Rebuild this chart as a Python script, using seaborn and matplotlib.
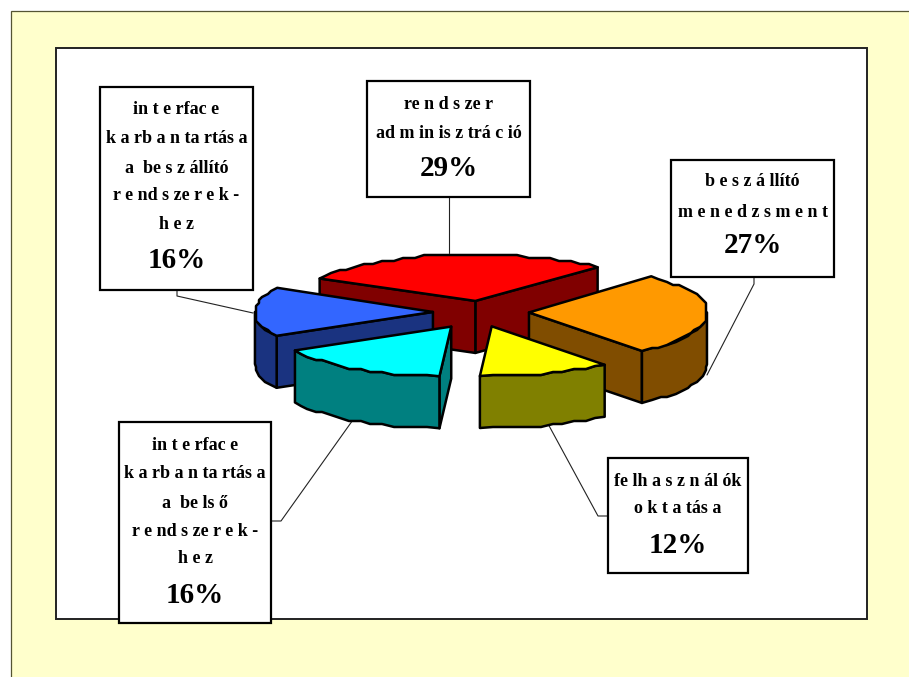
import numpy as np
import matplotlib
matplotlib.use("Agg")
import matplotlib.pyplot as plt
from matplotlib.patches import Polygon, Rectangle
import seaborn as sns

# Budget shares per activity
shares = [29, 27, 12, 16, 16]
top_colors = ["#FF0000", "#FF9900", "#FFFF00", "#00FFFF", "#3366FF"]
explode = [0.245, 0.264, 0.27, 0.30, 0.27]
# Extra shift of each slice in pixels, and depth scale of the rim on the far side
slice_shift = [(1, 1), (1, 0), (-4, 1.5), (-1, 2), (0, 0)]
rim_depth = [0.93, 1.0, 1.0, 1.0, 1.0]
draw_order = [0, 1, 4, 2, 3]

label_lines = [
    ["re n d s ze r", "ad m in is z trá c ió"],
    ["b e s z á llító", "m e n e d z s m e n t"],
    ["fe lh a s z n ál ók", "o k t a tás a"],
    ["in t e rfac e", "k a rb a n ta rtás a", "a  be ls ő", "r e nd s ze r e k -", "h e z"],
    ["in t e rfac e", "k a rb a n ta rtás a", "a  be s z állító", "r e nd s ze r e k -", "h e z"],
]

# Label boxes in pixels: left, top, right, bottom
boxes = [
    (367, 81, 530, 197),
    (671, 160, 834, 277),
    (608, 458, 748, 573),
    (119, 422, 271, 623),
    (100, 87, 253, 290),
]
baselines = [
    [109, 138, 176],
    [186, 217, 253],
    [486, 513, 553],
    [450, 478, 508, 536, 563, 603],
    [114, 143, 173, 200, 229, 268],
]
leaders = [
    [(449, 197), (449, 253)],
    [(754, 277), (754, 284), (707, 375)],
    [(608, 516), (598, 516), (547, 422)],
    [(271, 521), (281, 521), (355, 417)],
    [(177, 290), (177, 296), (253, 313)],
]

W, H = 909, 677
CX, CY = 481, 312      # pie centre on the canvas
SX, SY = 178, 49.8     # pixels per pie radius across and in depth
DEPTH = 52 / SY        # wall height in pie units

sns.set_style("white")
palette = sns.color_palette(top_colors)
wall_colors = [tuple(c * 0.5 for c in rgb) for rgb in palette]

fig = plt.figure(figsize=(W / 100, H / 100), dpi=100, facecolor="white")

# Background panel and plot frame
bg = fig.add_axes([0, 0, 1, 1], zorder=0)
bg.set(xlim=(0, W), ylim=(H, 0))
bg.axis("off")
bg.add_patch(Rectangle((10.5, 10.5), W, H, fc="#FFFFCC", ec="#555533", lw=0.9))
bg.add_patch(Rectangle((56, 47.5), 811, 571.5, fc="white", ec="#222222", lw=1.4))
for pts in leaders:
    xs, ys = zip(*pts)
    bg.plot(xs, ys, color="#222222", lw=0.8)

# Pie, squashed by giving the two data axes different scales
ax = fig.add_axes([0, 0, 1, 1], zorder=1)
wedges, _ = ax.pie(shares, explode=explode, startangle=151, counterclock=False,
                   colors=palette, radius=1)
ax.set_aspect("auto")
ax.set(xlim=(-CX / SX, (W - CX) / SX), ylim=((CY - H) / SY, CY / SY))
ax.patch.set_alpha(0)


def rough_arc(wedge, a1, a2, drop=0.0, depth=1.0):
    """Points along a wedge rim, snapped to a coarse pixel grid."""
    n = max(2, int(abs(a2 - a1) / 3.5))
    t = np.radians(np.linspace(a1, a2, n))
    x = wedge.center[0] + wedge.r * np.cos(t)
    y = wedge.center[1] + wedge.r * np.sin(t) * depth
    x[1:-1] = np.round(x[1:-1] * SX / 3) * 3 / SX
    y[1:-1] = np.round(y[1:-1] * SY / 3) * 3 / SY
    return np.column_stack([x, y - drop])


def face(points, color):
    ax.add_patch(Polygon(points, closed=True, fc=color, ec="black", lw=1.8,
                         joinstyle="round"))


for i in draw_order:
    w = wedges[i]
    dx, dy = slice_shift[i]
    w.set_center((w.center[0] + dx / SX, w.center[1] - dy / SY))
    t1, t2 = w.theta1, w.theta2
    apex = np.array(w.center)
    down = np.array([0, DEPTH])

    # Radial walls that face the viewer
    for angle, visible in ((t1, np.cos(np.radians(t1)) > 0), (t2, np.cos(np.radians(t2)) < 0)):
        if visible:
            rad = np.radians(angle)
            corner = apex + w.r * np.array([np.cos(rad), np.sin(rad) * rim_depth[i]])
            face([apex, corner, corner - down, apex - down], wall_colors[i])

    # Outer wall along the front half of the rim
    for lo, hi in ((-180, 0), (180, 360)):
        a1, a2 = max(t1, lo), min(t2, hi)
        if a2 > a1:
            rim = rough_arc(w, a1, a2)
            face(np.vstack([rim, rough_arc(w, a1, a2, DEPTH)[::-1]]), wall_colors[i])

    # Top face
    face(np.vstack([apex, rough_arc(w, t1, t2, depth=rim_depth[i])]), palette[i])

for w in wedges:
    w.remove()

# Text boxes
fg = fig.add_axes([0, 0, 1, 1], zorder=2)
fg.set(xlim=(0, W), ylim=(H, 0))
fg.axis("off")
fg.patch.set_alpha(0)
for lines, share, box, ys in zip(label_lines, shares, boxes, baselines):
    left, top, right, bottom = box
    fg.add_patch(Rectangle((left, top), right - left, bottom - top,
                           fc="white", ec="black", lw=1.6))
    cx = (left + right) / 2
    for line, y in zip(lines, ys):
        fg.text(cx, y, line, ha="center", va="baseline", family="Liberation Serif",
                weight="bold", fontsize=13, color="black")
    fg.text(cx, ys[-1], f"{share}%", ha="center", va="baseline",
            family="Liberation Serif", weight="bold", fontsize=21, color="black")

fig.savefig("out.png", dpi=100)
